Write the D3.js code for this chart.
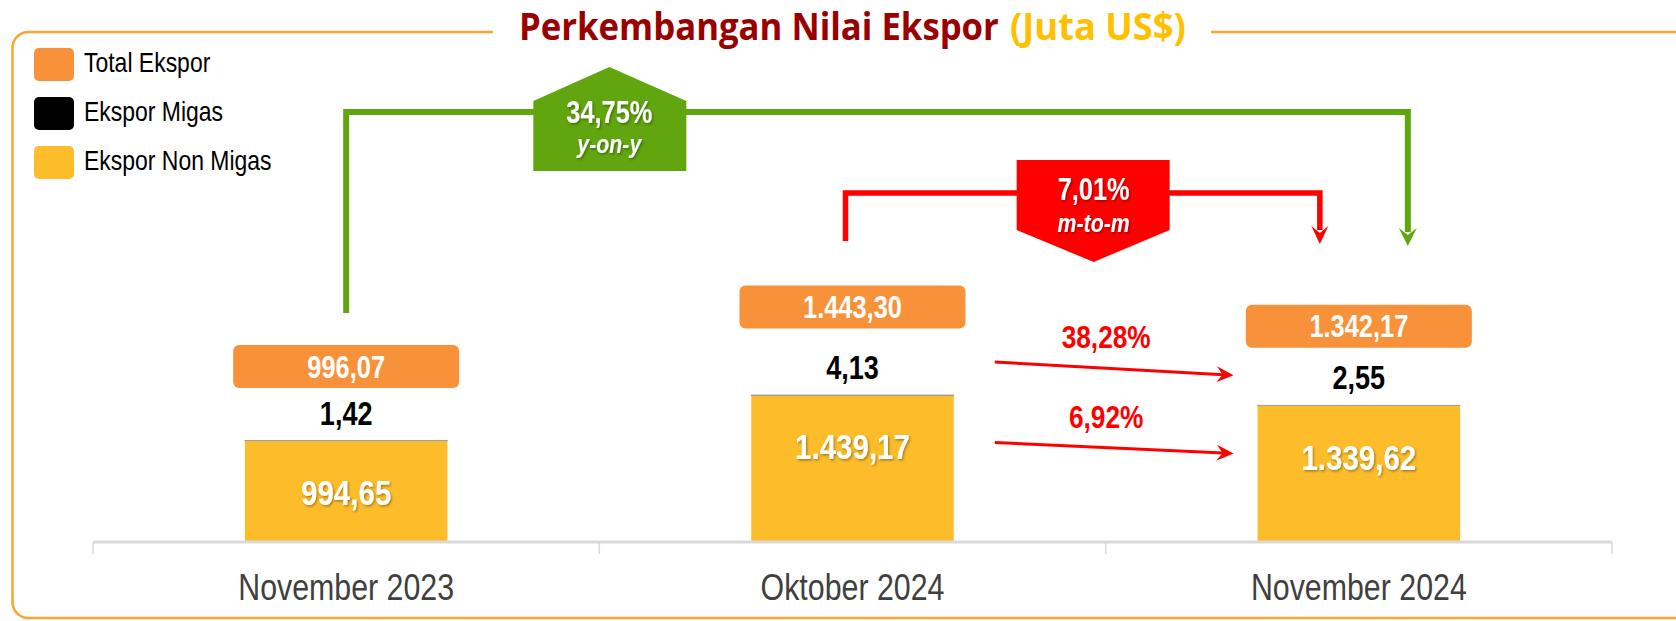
<!DOCTYPE html>
<html>
<head>
<meta charset="utf-8">
<script src="https://cdn.jsdelivr.net/npm/d3@7"></script>
<style>
  body { margin: 0; background: #fff; }
  svg { display: block; }
  .narrow { font-family: "Liberation Sans Narrow", "Arial Narrow", "Liberation Sans", Arial, sans-serif; }
</style>
</head>
<body>
<div id="chart"></div>
<script>
// data
var categories = ["November 2023", "Oktober 2024", "November 2024"];
var totalEkspor = [996.07, 1443.30, 1342.17];
var eksporMigas = [1.42, 4.13, 2.55];
var eksporNonMigas = [994.65, 1439.17, 1339.62];
var legendLabels = ["Total Ekspor", "Ekspor Migas", "Ekspor Non Migas"];
var legendColors = ["#F7923A", "#000000", "#FDBD2B"];
var yoyGrowth = 34.75;     // Nov 2023 -> Nov 2024
var mtmGrowth = 7.01;      // Okt 2024 -> Nov 2024
var migasMtm = 38.28;
var nonMigasMtm = 6.92;

var svgWidth = 1676;
var svgHeight = 621;
var baseY = 542;

var idn = d3.formatLocale({ decimal: ",", thousands: ".", grouping: [3], currency: ["", ""] });
var fmt = idn.format(",.2f");
var pct = function(v) { return idn.format(".2f")(v) + "%"; };

var svg = d3.select("#chart").append("svg")
  .attr("width", svgWidth)
  .attr("height", svgHeight);

// soft shadow for white labels
var defs = svg.append("defs");
defs.append("filter").attr("id", "shadow")
  .attr("x", "-10%").attr("y", "-20%").attr("width", "130%").attr("height", "150%")
  .append("feDropShadow")
  .attr("dx", 1.5).attr("dy", 1.5).attr("stdDeviation", 1)
  .attr("flood-color", "#000").attr("flood-opacity", 0.35);

// squeeze a text horizontally to a given width
function fitWidth(t, w) {
  var tx = +t.attr("x") || 0;
  var k = w / t.node().getComputedTextLength();
  t.attr("transform", "translate(" + tx + ",0) scale(" + k + ",1) translate(" + (-tx) + ",0)");
}

// frame
svg.append("rect")
  .attr("x", 12.5).attr("y", 32)
  .attr("width", 1760).attr("height", 586)
  .attr("rx", 16)
  .attr("fill", "none")
  .attr("stroke", "#F8A531")
  .attr("stroke-width", 2.5);
svg.append("rect")
  .attr("x", 493).attr("y", 26).attr("width", 718).attr("height", 12)
  .attr("fill", "#fff");

// title (two pieces, two colours)
var title1 = svg.append("text")
  .attr("x", 519).attr("y", 40)
  .attr("font-family", "'Open Sans', sans-serif")
  .attr("font-weight", 700)
  .attr("font-size", 37)
  .attr("fill", "#990000")
  .text("Perkembangan Nilai Ekspor");
fitWidth(title1, 480);
var title2 = svg.append("text")
  .attr("x", 1010).attr("y", 40)
  .attr("font-family", "'Open Sans', sans-serif")
  .attr("font-weight", 700)
  .attr("font-size", 37)
  .attr("fill", "#FFC000")
  .text("(Juta US$)");
fitWidth(title2, 176);

// legend
var legend = svg.append("g");
var legendY = [48, 97, 146];
legendLabels.forEach(function(lbl, i) {
  legend.append("rect")
    .attr("x", 34).attr("y", legendY[i])
    .attr("width", 40).attr("height", 33)
    .attr("rx", 5)
    .attr("fill", legendColors[i]);
  legend.append("text")
    .attr("class", "narrow")
    .attr("x", 84).attr("y", legendY[i] + 24)
    .attr("font-size", 28)
    .attr("fill", "#000")
    .text(lbl);
});

// scales
var x = d3.scaleBand()
  .domain(categories)
  .range([93, 1612])
  .paddingInner(0.6)
  .paddingOuter(0.3);

var y = d3.scaleLinear()
  .domain([0, d3.max(totalEkspor)])
  .range([baseY, 395]);

var cx = function(i) { return x(categories[i]) + x.bandwidth() / 2; };

// bars: non migas + thin migas slice on top
var chartGroup = svg.append("g");
chartGroup.selectAll(".bar")
  .data(categories)
  .enter().append("rect")
  .attr("class", "bar")
  .attr("x", function(d) { return x(d); })
  .attr("y", function(d, i) { return y(eksporNonMigas[i]); })
  .attr("width", x.bandwidth())
  .attr("height", function(d, i) { return baseY - y(eksporNonMigas[i]); })
  .attr("fill", "#FDBD2B");

chartGroup.selectAll(".migas")
  .data(categories)
  .enter().append("rect")
  .attr("class", "migas")
  .attr("x", function(d) { return x(d); })
  .attr("y", function(d, i) { return y(eksporNonMigas[i] + eksporMigas[i]); })
  .attr("width", x.bandwidth())
  .attr("height", function(d, i) { return y(eksporNonMigas[i]) - y(eksporNonMigas[i] + eksporMigas[i]); })
  .attr("fill", "#000")
  .attr("stroke", "#A0A0A0")
  .attr("stroke-width", 0.8);

// x axis
var bottomAxis = d3.axisBottom(x).tickSize(0);
var xAxis = svg.append("g")
  .attr("transform", "translate(0," + baseY + ")")
  .call(bottomAxis);
xAxis.select(".domain")
  .attr("d", "M93,0H1612")
  .attr("stroke", "#D9D9D9")
  .attr("stroke-width", 3);
xAxis.selectAll(".tick text")
  .attr("class", "narrow")
  .attr("y", 58).attr("dy", null)
  .attr("font-size", 37)
  .attr("fill", "#404040");
// dividers between categories
var edges = categories.map(function(d) { return x(d) - x.step() * x.paddingInner() / 2; });
edges[0] = x.range()[0];
edges.push(x.range()[1]);
xAxis.selectAll(".edge")
  .data(edges)
  .enter().append("line")
  .attr("class", "edge")
  .attr("x1", function(d) { return d; }).attr("x2", function(d) { return d; })
  .attr("y1", 0).attr("y2", 12)
  .attr("stroke", "#D9D9D9")
  .attr("stroke-width", 1.5);

// total labels in orange boxes
var boxLift = [74, 88, 79];
var labels = svg.append("g");
categories.forEach(function(c, i) {
  var by = y(totalEkspor[i]) - boxLift[i];
  labels.append("rect")
    .attr("x", cx(i) - 113).attr("y", by - 21.5)
    .attr("width", 226).attr("height", 43)
    .attr("rx", 6)
    .attr("fill", "#F7923A");
  labels.append("text")
    .attr("class", "narrow")
    .attr("x", cx(i)).attr("y", by + 11)
    .attr("text-anchor", "middle")
    .attr("font-size", 31).attr("font-weight", 700)
    .attr("fill", "#fff")
    .text(fmt(totalEkspor[i]));

  labels.append("text")
    .attr("class", "narrow")
    .attr("x", cx(i)).attr("y", y(totalEkspor[i]) - 16)
    .attr("text-anchor", "middle")
    .attr("font-size", 33).attr("font-weight", 700)
    .attr("fill", "#000")
    .text(fmt(eksporMigas[i]));

  labels.append("text")
    .attr("class", "narrow")
    .attr("x", cx(i)).attr("y", y(eksporNonMigas[i]) + 64)
    .attr("text-anchor", "middle")
    .attr("font-size", 36).attr("font-weight", 700)
    .attr("fill", "#fff")
    .attr("filter", "url(#shadow)")
    .text(fmt(eksporNonMigas[i]));
});

// arrow helpers
function downHead(g, xx, tip, col, w) {
  g.append("path")
    .attr("d", "M" + (xx - w) + "," + (tip - 18) + "L" + xx + "," + (tip - 11) +
      "L" + (xx + w) + "," + (tip - 18) + "L" + xx + "," + tip + "Z")
    .attr("fill", col);
}

var notes = svg.append("g");

// y-on-y connector (green)
var green = "#61A60E";
var gx1 = cx(0), gx2 = cx(2) + 49, gTop = 112;
notes.append("path")
  .attr("d", "M" + gx1 + ",313V" + gTop + "H" + gx2 + "V232")
  .attr("fill", "none").attr("stroke", green).attr("stroke-width", 6);
downHead(notes, gx2, 246, green, 9);
var gb = (cx(0) + cx(1)) / 2 + 10;
notes.append("path")
  .attr("d", "M" + (gb - 76) + ",171V101L" + gb + ",67L" + (gb + 77) + ",101V171Z")
  .attr("fill", green);
notes.append("text")
  .attr("class", "narrow")
  .attr("x", gb).attr("y", 123)
  .attr("text-anchor", "middle")
  .attr("font-size", 31).attr("font-weight", 700)
  .attr("fill", "#fff").attr("filter", "url(#shadow)")
  .text(pct(yoyGrowth));
notes.append("text")
  .attr("class", "narrow")
  .attr("x", gb).attr("y", 153)
  .attr("text-anchor", "middle")
  .attr("font-size", 26).attr("font-weight", 700).attr("font-style", "italic")
  .attr("fill", "#fff").attr("filter", "url(#shadow)")
  .text("y-on-y");

// m-to-m connector (red)
var red = "#FF0000";
var rx1 = cx(1) - 7, rx2 = cx(2) - 39, rTop = 193;
notes.append("path")
  .attr("d", "M" + rx1 + ",241V" + rTop + "H" + rx2 + "V230")
  .attr("fill", "none").attr("stroke", red).attr("stroke-width", 5.5);
downHead(notes, rx2, 244, red, 8.5);
var rb = (cx(1) + cx(2)) / 2 - 12;
notes.append("path")
  .attr("d", "M" + (rb - 77) + ",160H" + (rb + 76) + "V230L" + rb + ",262L" + (rb - 77) + ",230Z")
  .attr("fill", red);
notes.append("text")
  .attr("class", "narrow")
  .attr("x", rb).attr("y", 200)
  .attr("text-anchor", "middle")
  .attr("font-size", 31).attr("font-weight", 700)
  .attr("fill", "#fff").attr("filter", "url(#shadow)")
  .text(pct(mtmGrowth));
notes.append("text")
  .attr("class", "narrow")
  .attr("x", rb).attr("y", 232)
  .attr("text-anchor", "middle")
  .attr("font-size", 26).attr("font-weight", 700).attr("font-style", "italic")
  .attr("fill", "#fff").attr("filter", "url(#shadow)")
  .text("m-to-m");

// component growth arrows
function sideArrow(x1, y1, x2, y2, label) {
  var ang = Math.atan2(y2 - y1, x2 - x1);
  var len = Math.hypot(x2 - x1, y2 - y1);
  var g = notes.append("g")
    .attr("transform", "translate(" + x1 + "," + y1 + ") rotate(" + (ang * 180 / Math.PI) + ")");
  g.append("line")
    .attr("x1", 0).attr("y1", 0).attr("x2", len - 10).attr("y2", 0)
    .attr("stroke", red).attr("stroke-width", 3);
  g.append("path")
    .attr("d", "M" + len + ",0L" + (len - 17) + ",-8L" + (len - 11) + ",0L" + (len - 17) + ",8Z")
    .attr("fill", red);
  notes.append("text")
    .attr("class", "narrow")
    .attr("x", (x1 + x2) / 2 - 8).attr("y", Math.min(y1, y2) - 14)
    .attr("text-anchor", "middle")
    .attr("font-size", 32).attr("font-weight", 700)
    .attr("fill", red)
    .text(label);
}
var ax1 = x(categories[1]) + x.bandwidth() + 41;
var ax2 = x(categories[2]) - 24;
sideArrow(ax1, y(totalEkspor[1]) - 33, ax2, y(totalEkspor[2]) - 30, pct(migasMtm));
sideArrow(ax1, y(eksporNonMigas[1]) + 47, ax2, y(eksporNonMigas[2]) + 48, pct(nonMigasMtm));

// no Arial Narrow here? squeeze the regular face instead
var probe1 = svg.append("text").attr("font-family", "'Liberation Sans Narrow', monospace").attr("font-size", 40).text("Ekspor Migas 2024");
var probe2 = svg.append("text").attr("font-family", "monospace").attr("font-size", 40).text("Ekspor Migas 2024");
var hasNarrow = Math.abs(probe1.node().getComputedTextLength() - probe2.node().getComputedTextLength()) > 0.5;
probe1.remove();
probe2.remove();
if (!hasNarrow) {
  svg.selectAll(".narrow").each(function() {
    var t = d3.select(this);
    var tx = +t.attr("x") || 0;
    t.attr("transform", "translate(" + tx + ",0) scale(0.82,1) translate(" + (-tx) + ",0)");
  });
}
</script>
</body>
</html>
